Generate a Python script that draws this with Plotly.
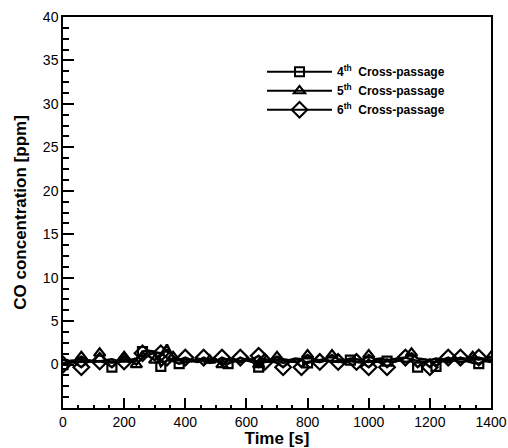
import plotly.graph_objects as go

# time grid (s)
time_s = list(range(0, 1401, 20))

# 4th cross-passage (squares)
co_4th = [0.0, 0.2, 0.4, 0.3, 0.5, 0.3, 0.4, 0.2, -0.3, 0.3,
          0.4, 0.3, 0.5, 1.5, 1.6, 1.5, -0.2, 0.5, 0.4, 0.1,
          0.3, 0.4, 0.3, 0.5, 0.2, 0.4, 0.3, 0.1, 0.4, 0.3,
          0.5, 0.3, -0.3, 0.4, 0.3, 0.5, 0.2, 0.4, 0.3, 0.5,
          0.2, 0.4, 0.3, 0.5, 0.3, 0.4, 0.2, 0.5, 0.3, 0.4,
          0.3, 0.5, 0.2, 0.4, 0.3, 0.5, 0.3, 0.4, -0.3, 0.3,
          0.4, -0.2, 0.4, 0.3, 0.5, 0.3, 0.4, 0.2, 0.1, 0.4,
          0.3]
# 5th cross-passage (triangles)
co_5th = [0.1, 0.4, 0.5, 0.9, 0.5, 0.4, 1.3, 0.5, 0.6, 0.4,
          0.9, 0.5, 0.0, 0.8, 1.0, 0.5, 1.2, 2.3, 0.9, 0.5,
          0.6, 0.4, 0.7, 0.5, 0.5, 0.6, 0.0, 0.5, 0.6, 0.4,
          0.7, 0.5, 0.0, 0.6, 0.5, 0.9, 0.6, 0.5, 0.7, 0.6,
          1.1, 0.6, 0.5, 0.7, 1.1, 0.6, 0.5, 0.7, 0.6, 0.5,
          1.1, 0.6, 0.7, 0.5, 0.6, 0.7, 0.8, 1.3, 0.7, 0.6,
          0.5, 0.7, 0.6, 0.5, 0.7, 0.6, 0.7, 0.9, 0.6, 0.7,
          0.9]
# 6th cross-passage (diamonds)
co_6th = [0.0, 0.3, 0.2, -0.3, 0.3, 0.4, 0.35, 0.5, 0.3, 0.4,
          0.35, 0.5, 0.7, 1.3, 1.1, 1.4, 1.3, 0.8, 0.6, 0.5,
          0.8, 0.5, 0.4, 0.8, 0.5, 0.4, 0.8, 0.5, 0.4, 0.8,
          0.5, 0.6, 1.0, 0.3, 0.4, 0.2, -0.3, 0.3, 0.4, -0.3,
          0.3, 0.4, 0.3, 0.5, 0.4, 0.3, 0.5, 0.4, 0.3, 0.2,
          -0.3, 0.3, 0.4, -0.3, 0.3, 0.5, 0.8, 0.6, 0.4, 0.3,
          -0.3, 0.4, 0.5, 0.8, 0.5, 0.8, 0.6, 0.5, 0.8, 0.6,
          0.5]

# which samples carry a symbol
marks_4th = [0, 8, 13, 16, 19, 27, 32, 40, 47, 53, 58, 61, 68]
marks_5th = [3, 6, 10, 12, 15, 18, 24, 26, 32, 35, 40, 44, 50, 57, 67, 70]
marks_6th = [0, 3, 6, 10, 13, 16, 17, 20, 23, 26, 29, 32, 33, 36, 39, 42,
             45, 48, 50, 53, 56, 60, 63, 65, 68]

series = [
    ("<b>4<sup>th</sup>  Cross-passage</b>", co_4th, marks_4th, "square-open", 9),
    ("<b>5<sup>th</sup>  Cross-passage</b>", co_5th, marks_5th, "triangle-up-open", 10),
    ("<b>6<sup>th</sup>  Cross-passage</b>", co_6th, marks_6th, "diamond-open", 12),
]

FONT = "Liberation Sans, Arial"

fig = go.Figure()
for name, vals, marks, sym, sz in series:
    fig.add_trace(go.Scatter(x=time_s, y=vals, mode="lines",
                             line=dict(color="black", width=2.5),
                             showlegend=False, hoverinfo="skip"))
    fig.add_trace(go.Scatter(x=[time_s[i] for i in marks],
                             y=[vals[i] for i in marks], mode="markers",
                             marker=dict(symbol=sym, size=sz, color="black",
                                         line=dict(width=2.2, color="black")),
                             showlegend=False))
for name, vals, marks, sym, sz in series:
    fig.add_trace(go.Scatter(x=[None], y=[None], mode="lines+markers",
                             name=name,
                             line=dict(color="black", width=2),
                             marker=dict(symbol=sym, size=sz, color="black",
                                         line=dict(width=2, color="black"))))

axis_common = dict(showline=True, linecolor="black", linewidth=1.5,
                   mirror=True, ticks="inside", tickcolor="black",
                   showgrid=False, zeroline=False, automargin=False,
                   tickfont=dict(family=FONT, size=14, color="black"))

fig.update_layout(
    width=508, height=448,
    margin=dict(l=63, r=17, t=17, b=40),
    plot_bgcolor="white", paper_bgcolor="white",
    xaxis=dict(range=[0, 1400], tickvals=[0, 200, 400, 600, 800, 1000, 1200, 1400],
               ticklen=10, tickwidth=1.5,
               minor=dict(tickmode="linear", tick0=0, dtick=50, ticklen=3,
                          ticks="inside", tickcolor="black"),
               title=dict(text="<b>Time [s]</b>", standoff=0,
                          font=dict(family=FONT, size=17, color="black")),
               **axis_common),
    yaxis=dict(range=[-5, 40], tickvals=[0, 5, 10, 15, 20, 25, 30, 35, 40],
               ticklen=11, tickwidth=1.5,
               minor=dict(tickmode="linear", tick0=0, dtick=1.25, ticklen=6,
                          ticks="inside", tickcolor="black"),
               title=dict(text="<b>CO concentration [ppm]</b>", standoff=12,
                          font=dict(family=FONT, size=17, color="black")),
               **axis_common),
    legend=dict(x=0.465, y=0.897, xanchor="left", yanchor="top",
                bgcolor="rgba(0,0,0,0)", itemwidth=65, tracegroupgap=0,
                font=dict(family=FONT, size=12, color="black")),
)

fig.write_html("out.html")
